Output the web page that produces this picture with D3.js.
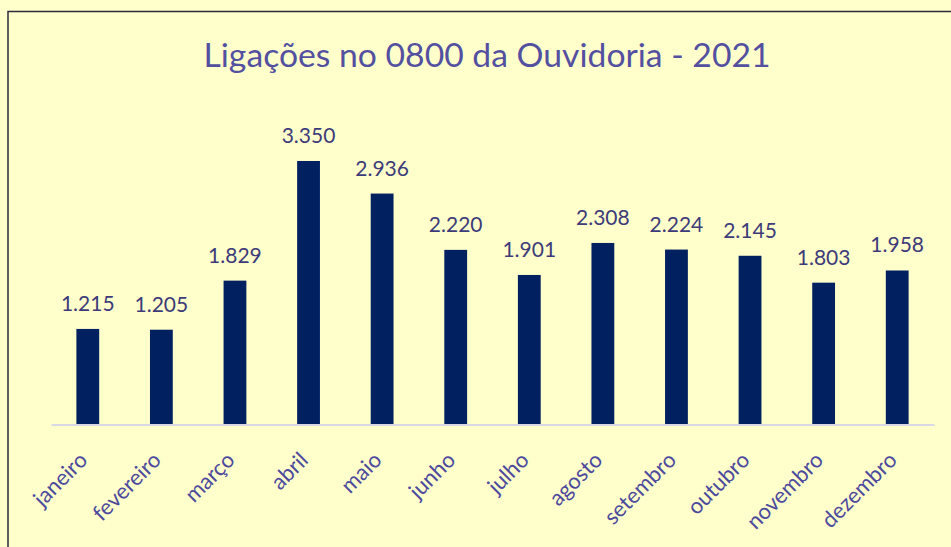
<!DOCTYPE html>
<html>
<head>
<meta charset="utf-8">
<script src="https://cdn.jsdelivr.net/npm/d3@7"></script>
<style>
  body { margin: 0; background: #ffffcc; }
  svg { display: block; }
</style>
</head>
<body>
<div id="chart"></div>
<script>
const months = ["janeiro", "fevereiro", "março", "abril", "maio", "junho",
  "julho", "agosto", "setembro", "outubro", "novembro", "dezembro"];
const calls = [1215, 1205, 1829, 3350, 2936, 2220, 1901, 2308, 2224, 2145, 1803, 1958];
const title = "Ligações no 0800 da Ouvidoria - 2021";

const width = 951,
  height = 547,
  margin = { top: 110, right: 17, bottom: 122.5, left: 51 },
  chartWidth = width - margin.left - margin.right,
  chartHeight = height - margin.top - margin.bottom;

const fmt = d3.formatLocale({ decimal: ",", thousands: ".", grouping: [3], currency: ["", ""] }).format(",");

const svg = d3.select("#chart").append("svg")
  .attr("width", width)
  .attr("height", height);

svg.append("rect")
  .attr("width", width).attr("height", height)
  .attr("fill", "#ffffcc");

// frame
svg.append("rect")
  .attr("x", 8).attr("y", 11.5)
  .attr("width", width + 20).attr("height", height + 20)
  .attr("fill", "none")
  .attr("stroke", "#2b2b3a")
  .attr("stroke-width", 1.5);

svg.append("text")
  .attr("x", 487)
  .attr("y", 66.5)
  .attr("text-anchor", "middle")
  .attr("fill", "#5450a0")
  .style("font-family", "Lato, 'Open Sans', sans-serif")
  .style("font-size", "33.7px")
  .text(title);

const chart = svg.append("g")
  .attr("transform", `translate(${margin.left}, ${margin.top})`);

const xScale = d3.scaleBand()
  .domain(months)
  .range([0, chartWidth])
  .paddingInner(0.69)
  .paddingOuter(0.345);

const yScale = d3.scaleLinear()
  .domain([0, 4000])
  .range([chartHeight, chartHeight - 4000 * 0.07866]);

chart.selectAll(".bar")
  .data(calls)
  .enter()
  .append("rect")
  .attr("class", "bar")
  .attr("x", (d, i) => xScale(months[i]))
  .attr("width", xScale.bandwidth())
  .attr("y", d => yScale(d))
  .attr("height", d => yScale(0) - yScale(d))
  .attr("fill", "#002060");

chart.selectAll(".label")
  .data(calls)
  .enter()
  .append("text")
  .attr("class", "label")
  .attr("x", (d, i) => xScale(months[i]) + xScale.bandwidth() / 2)
  .attr("y", d => yScale(d) - 18)
  .attr("text-anchor", "middle")
  .attr("fill", "#3d3b78")
  .style("font-family", "Lato, 'Open Sans', sans-serif")
  .style("font-size", "21px")
  .text(d => fmt(d));

const xAxis = d3.axisBottom(xScale).tickSize(0).tickPadding(0);

const gx = chart.append("g")
  .attr("transform", `translate(0, ${chartHeight})`)
  .call(xAxis);

gx.select(".domain")
  .attr("stroke", "#d9d9e6")
  .attr("stroke-width", 2);

gx.selectAll(".tick text")
  .attr("fill", "#4d4a9c")
  .style("font-family", "Lato, 'Open Sans', sans-serif")
  .style("font-size", "22px")
  .attr("text-anchor", "end")
  .attr("dy", null)
  .attr("y", 0)
  .attr("transform", "translate(1, 37) rotate(-45)");
</script>
</body>
</html>
